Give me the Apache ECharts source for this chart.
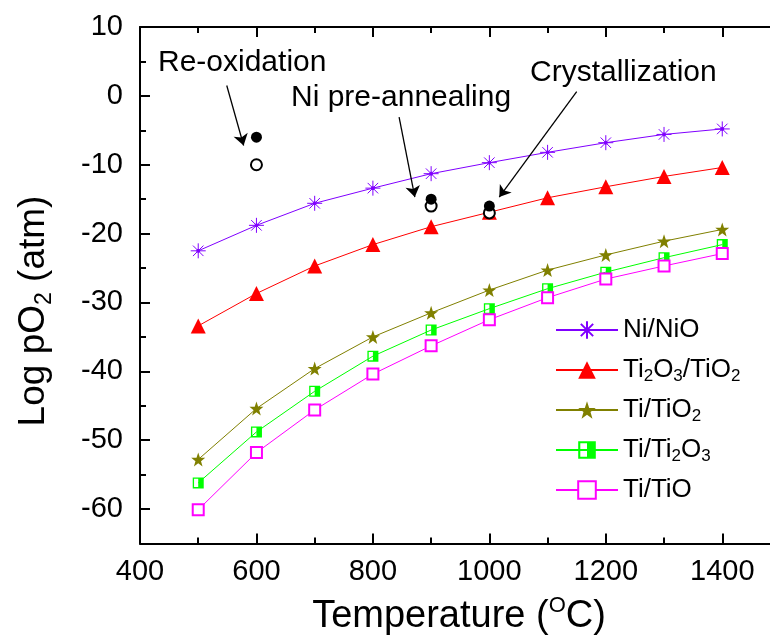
<!DOCTYPE html>
<html>
<head>
<meta charset="utf-8">
<script src="https://cdn.jsdelivr.net/npm/echarts@6/dist/echarts.min.js"></script>
<style>
  html, body { margin: 0; padding: 0; background: #fff; }
  #chart { width: 770px; height: 641px; }
</style>
</head>
<body>
<div id="chart"></div>
<script>
// temperatures (oC)
const temps = [500, 600, 700, 800, 900, 1000, 1100, 1200, 1300, 1400]
// log pO2 (atm) for each redox couple
const niNiO = [-22.5, -18.8, -15.6, -13.4, -11.3, -9.7, -8.2, -6.8, -5.6, -4.8]
const ti2o3TiO2 = [-33.4, -28.7, -24.7, -21.6, -19.0, -16.9, -14.8, -13.2, -11.7, -10.4]
const tiTiO2 = [-52.8, -45.4, -39.6, -35.0, -31.5, -28.2, -25.3, -23.1, -21.1, -19.4]
const tiTi2O3 = [-56.2, -48.8, -42.9, -37.8, -34.0, -30.9, -28.0, -25.6, -23.5, -21.6]
const tiTiO = [-60.1, -51.8, -45.6, -40.4, -36.3, -32.5, -29.3, -26.6, -24.7, -22.9]
// process points
const filledPts = [[600, -6], [900, -15], [1000, -16]]
const openPts = [[600, -10], [900, -16], [1000, -17]]
// arrows [from, to] in data units
const arrows = [
  [[549, 1.5], [578, -7.2]],
  [[845, -3.1], [872, -14.7]],
  [[1150, 0.6], [1017, -14.7]]
]
// ticks (the frame is cut at the right edge of the picture)
const xMin = 400, xMax = 1482
const xMajorTicks = [400, 600, 800, 1000, 1200, 1400]
const xMinorTicks = [500, 700, 900, 1100, 1300]
const yMajorTicks = [-60, -50, -40, -30, -20, -10, 0, 10]
const yMinorTicks = [-65, -55, -45, -35, -25, -15, -5, 5]

const FONT = '"Liberation Sans", Arial, sans-serif'

const legendLabels = {
  'Ni/NiO': 'Ni/NiO',
  'Ti2O3/TiO2': 'Ti{s|2}O{s|3}/TiO{s|2}',
  'Ti/TiO2': 'Ti/TiO{s|2}',
  'Ti/Ti2O3': 'Ti/Ti{s|2}O{s|3}',
  'Ti/TiO': 'Ti/TiO'
}

const asterisk = 'path://M0,5 L10,5 M5,0 L5,10 M1.5,1.5 L8.5,8.5 M8.5,1.5 L1.5,8.5 M4,5 A1,1 0 1,0 6,5 A1,1 0 1,0 4,5 Z'
const star = 'path://M5,0 L6.18,3.45 L9.76,3.45 L6.9,5.59 L7.94,9.05 L5,7 L2.06,9.05 L3.1,5.59 L0.24,3.45 L3.82,3.45 Z'
const halfSquare = 'path://M0,0 L10,0 L10,10 L0,10 Z M1.2,1.2 L1.2,8.8 L5,8.8 L5,1.2 Z'

const pts = arr => temps.map((t, i) => [t, arr[i]])

function lineSeries(name, arr, color, symbol, size, extra) {
  return Object.assign({
    name, type: 'line', data: pts(arr), color,
    symbol, symbolSize: size,
    lineStyle: { width: 1, color },
    itemStyle: { color },
    emphasis: { disabled: true },
    z: 3
  }, extra || {})
}

const tickStyle = { color: '#000', width: 2 }

function xAx(position, ticks, len, withLine, withLabels) {
  return {
    type: 'value', position, min: xMin, max: xMax,
    axisLine: { show: withLine, onZero: false, lineStyle: tickStyle },
    axisTick: { inside: true, length: len, customValues: ticks, lineStyle: tickStyle },
    axisLabel: withLabels
      ? { fontSize: 29, fontFamily: FONT, color: '#000', margin: 14, customValues: ticks, formatter: v => String(v) }
      : { show: false },
    splitLine: { show: false }
  }
}

function yAx(ticks, len, withLine, withLabels) {
  return {
    type: 'value', position: 'left', min: -65, max: 10,
    axisLine: { show: withLine, onZero: false, lineStyle: tickStyle },
    axisTick: { inside: true, length: len, customValues: ticks, lineStyle: tickStyle },
    axisLabel: withLabels
      ? { fontSize: 29, fontFamily: FONT, color: '#000', margin: 17, customValues: ticks }
      : { show: false },
    splitLine: { show: false }
  }
}

const chart = echarts.init(document.getElementById('chart'))
chart.setOption({
  animation: false,
  backgroundColor: '#fff',
  grid: { left: 140, top: 27, right: 0, height: 516.5 },
  xAxis: [
    xAx('bottom', xMajorTicks, 10, true, true),
    xAx('bottom', xMinorTicks, 6, false, false),
    xAx('top', xMajorTicks, 10, true, false),
    xAx('top', xMinorTicks, 6, false, false)
  ],
  yAxis: [
    yAx(yMajorTicks, 10, true, true),
    yAx(yMinorTicks, 6, false, false)
  ],
  legend: {
    data: ['Ni/NiO', 'Ti2O3/TiO2', 'Ti/TiO2', 'Ti/Ti2O3', 'Ti/TiO'],
    orient: 'vertical', left: 550, top: 310,
    itemWidth: 62, itemHeight: 22, itemGap: 10,
    selectedMode: false,
    formatter: n => legendLabels[n],
    textStyle: {
      fontSize: 26, fontFamily: FONT, color: '#000', lineHeight: 30,
      rich: {
        s: { fontSize: 17, fontFamily: FONT, color: '#000', lineHeight: 14, verticalAlign: 'bottom' }
      }
    }
  },
  series: [
    lineSeries('Ni/NiO', niNiO, '#8000ff', asterisk, 15,
      { itemStyle: { color: '#8000ff', borderColor: '#8000ff', borderWidth: 1 } }),
    lineSeries('Ti2O3/TiO2', ti2o3TiO2, '#ff0000', 'triangle', 15),
    lineSeries('Ti/TiO2', tiTiO2, '#808000', star, 14),
    lineSeries('Ti/Ti2O3', tiTi2O3, '#00ff00', halfSquare, 11),
    lineSeries('Ti/TiO', tiTiO, '#ff00ff', 'emptyRect', 11,
      { itemStyle: { color: '#ff00ff', borderWidth: 1.5 } }),
    {
      name: 'open', type: 'scatter', data: openPts, symbol: 'emptyCircle', symbolSize: 11,
      itemStyle: { color: '#000', borderWidth: 1.2, opacity: 1 }, z: 5, emphasis: { disabled: true }
    },
    {
      name: 'filled', type: 'scatter', data: filledPts, symbol: 'circle', symbolSize: 11,
      itemStyle: { color: '#000', opacity: 1 }, z: 6, emphasis: { disabled: true },
      markLine: {
        silent: true, animation: false,
        symbol: ['none', 'arrow'], symbolSize: 11,
        label: { show: false },
        lineStyle: { color: '#000', width: 1.3, type: 'solid' },
        data: arrows.map(a => [{ coord: a[0] }, { coord: a[1] }])
      }
    }
  ],
  graphic: [
    { type: 'text', left: 158, top: 48, style: { text: 'Re-oxidation', font: '30px ' + FONT, fill: '#000' } },
    { type: 'text', left: 291, top: 83, style: { text: 'Ni pre-annealing', font: '30px ' + FONT, fill: '#000' } },
    { type: 'text', left: 530, top: 58, style: { text: 'Crystallization', font: '30px ' + FONT, fill: '#000' } },
    {
      type: 'text', x: 34, y: 311, rotation: Math.PI / 2,
      style: {
        text: 'Log pO{s|2} (atm)', align: 'center', verticalAlign: 'middle',
        fontSize: 37, fontFamily: FONT, fill: '#000', lineHeight: 44,
        rich: { s: { fontSize: 23, fontFamily: FONT, fill: '#000', lineHeight: 26, verticalAlign: 'bottom' } }
      }
    },
    {
      type: 'text', x: 459, y: 617,
      style: {
        text: 'Temperature (' + '{p|O}' + 'C)', align: 'center', verticalAlign: 'middle',
        fontSize: 38, fontFamily: FONT, fill: '#000', lineHeight: 44,
        rich: { p: { fontSize: 22, fontFamily: FONT, fill: '#000', lineHeight: 32, verticalAlign: 'top' } }
      }
    }
  ]
})
</script>
</body>
</html>
